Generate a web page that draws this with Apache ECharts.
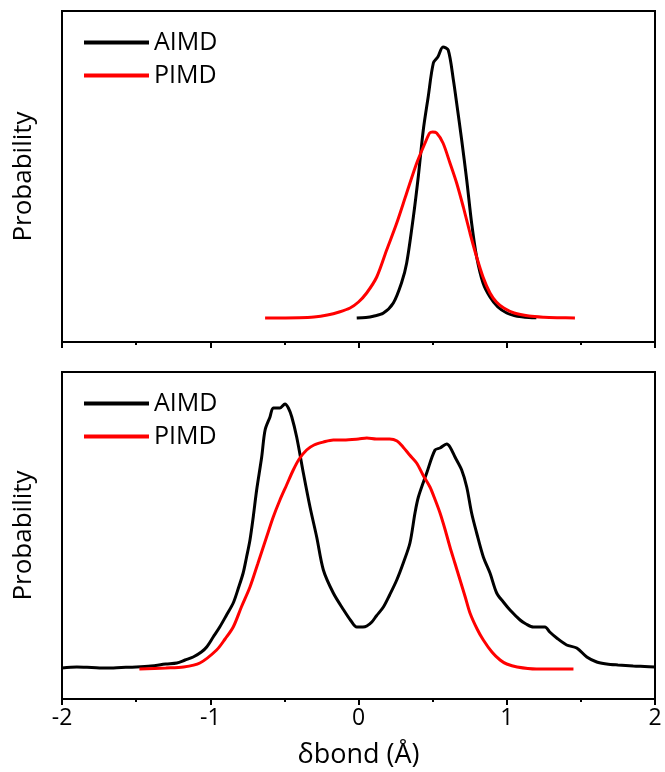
<!DOCTYPE html>
<html>
<head>
<meta charset="utf-8">
<script src="https://cdn.jsdelivr.net/npm/echarts@6/dist/echarts.min.js"></script>
<style>
  html, body { margin: 0; padding: 0; background: #fff; }
  #chart { width: 665px; height: 772px; }
</style>
</head>
<body>
<div id="chart"></div>
<script>
// Bond-length deviation distributions (δbond in Å, probability in arbitrary units)

// Upper panel
const topAimdX = [-0.012, 0.05, 0.1, 0.166, 0.235, 0.29, 0.325, 0.37, 0.403, 0.437, 0.47, 0.505, 0.535, 0.57, 0.605, 0.64, 0.662, 0.696, 0.73, 0.763, 0.797, 0.84, 0.887, 0.94, 1.0, 1.05, 1.1, 1.15, 1.2];
const topAimdY = [0, 0.6, 1.8, 4.7, 15, 35, 55, 101, 141, 188, 221, 255, 261, 271, 268, 238, 215, 178, 138, 95, 61, 35, 21, 11, 5, 2.5, 1.2, 0.5, 0.2];

const topPimdX = [-0.63, -0.4, -0.3, -0.21, -0.13, -0.057, 0.0, 0.055, 0.123, 0.19, 0.258, 0.325, 0.393, 0.449, 0.48, 0.5, 0.527, 0.57, 0.617, 0.662, 0.707, 0.752, 0.797, 0.84, 0.887, 0.93, 0.98, 1.05, 1.15, 1.25, 1.35, 1.46];
const topPimdY = [0, 0.3, 1, 3, 6, 10, 16, 25, 41, 68, 95, 125, 155, 175, 185, 186, 185, 175, 155, 135, 111, 85, 61, 41, 25, 16, 10, 5, 2, 0.8, 0.3, 0];

// Lower panel
const botAimdX = [-2.0, -1.9, -1.8, -1.7, -1.6, -1.5, -1.4, -1.3, -1.225, -1.17, -1.115, -1.06, -1.024, -0.98, -0.936, -0.89, -0.845, -0.81, -0.778, -0.755, -0.732, -0.71, -0.687, -0.653, -0.63, -0.597, -0.575, -0.53, -0.496, -0.473, -0.45, -0.417, -0.372, -0.327, -0.282, -0.237, -0.17, -0.1, -0.05, -0.012, 0.03, 0.056, 0.09, 0.12, 0.168, 0.21, 0.258, 0.302, 0.347, 0.381, 0.404, 0.46, 0.516, 0.55, 0.595, 0.617, 0.651, 0.696, 0.73, 0.763, 0.797, 0.842, 0.887, 0.932, 0.977, 1.022, 1.09, 1.13, 1.18, 1.22, 1.258, 1.29, 1.337, 1.404, 1.472, 1.54, 1.607, 1.674, 1.75, 1.853, 1.93, 2.0];
const botAimdY = [1, 2, 1.5, 1, 1.5, 2, 3, 5, 6, 9, 12, 17, 22, 32, 42, 54, 66, 81, 96, 112, 129, 152, 179, 212, 239, 252, 261, 261, 265, 261, 252, 232, 196, 162, 132, 99, 76, 59, 48, 42, 42, 43, 47, 53, 62, 74, 89, 106, 126, 156, 172, 196, 219, 221, 225, 222, 212, 199, 182, 156, 136, 112, 96, 76, 67, 59, 49, 45, 42, 42, 42, 37, 31, 24, 21, 12, 7, 5, 4, 3, 2.5, 2];

const botPimdX = [-1.478, -1.3, -1.18, -1.07, -0.957, -0.9, -0.845, -0.79, -0.732, -0.68, -0.62, -0.575, -0.53, -0.485, -0.44, -0.4, -0.35, -0.3, -0.236, -0.17, -0.1, 0.0, 0.056, 0.12, 0.21, 0.26, 0.3, 0.345, 0.392, 0.435, 0.482, 0.515, 0.55, 0.585, 0.617, 0.65, 0.685, 0.72, 0.752, 0.8, 0.842, 0.9, 0.955, 1.0, 1.07, 1.2, 1.45];
const botPimdY = [0, 1, 2, 6, 19, 30, 42, 62, 82, 105, 132, 152, 169, 184, 199, 210, 219, 224, 227, 229, 229, 230, 231, 230, 230, 228, 222, 214, 206, 194, 182, 170, 156, 139, 122, 106, 89, 72, 56, 40, 29, 17, 9, 5, 2, 0, 0];

const xTicks = [-2, -1, 0, 1, 2];
const seriesNames = ['AIMD', 'PIMD'];

const FONT = '"Open Sans", "Noto Sans", sans-serif';
const pair = (xs, ys) => xs.map((x, i) => [x, ys[i]]);

function xAxisFor(gridIndex, showLabels) {
  return {
    type: 'value', gridIndex, min: xTicks[0], max: xTicks[xTicks.length - 1], interval: 1,
    axisLine: { show: true, onZero: false, lineStyle: { color: '#000', width: 2 } },
    axisTick: { show: true, inside: false, length: 6, lineStyle: { color: '#000', width: 2 } },
    minorTick: { show: true, splitNumber: 2, length: 3, lineStyle: { color: '#000', width: 2 } },
    splitLine: { show: false },
    axisLabel: { show: showLabels, color: '#000', fontSize: 23, fontFamily: FONT, margin: 8,
      formatter: v => String(v) },
    name: showLabels ? 'δbond (Å)' : '', nameLocation: 'middle', nameGap: 43,
    nameTextStyle: { color: '#000', fontSize: 27, fontFamily: FONT }
  };
}

function yAxisFor(gridIndex, min, max) {
  return {
    type: 'value', gridIndex, min, max,
    axisLine: { show: true, onZero: false, lineStyle: { color: '#000', width: 2 } },
    axisTick: { show: false }, axisLabel: { show: false }, splitLine: { show: false },
    name: 'Probability', nameLocation: 'middle', nameGap: 25,
    nameTextStyle: { color: '#000', fontSize: 26, fontFamily: FONT }
  };
}

function lineSeries(name, color, xi, data) {
  return {
    name, type: 'line', xAxisIndex: xi, yAxisIndex: xi, data,
    showSymbol: false, symbol: 'none', smooth: 0.3, animation: false,
    lineStyle: { color, width: 3 }, itemStyle: { color }
  };
}

function legendAt(top) {
  return {
    orient: 'vertical', left: 79, top, itemWidth: 65, itemHeight: 4, itemGap: 8,
    icon: 'rect', data: seriesNames, selectedMode: false,
    textStyle: { color: '#000', fontSize: 25, fontFamily: FONT, padding: [0, 0, 0, 0] }
  };
}

const chart = echarts.init(document.getElementById('chart'), null, { renderer: 'canvas' });
chart.setOption({
  backgroundColor: '#fff',
  animation: false,
  grid: [
    { left: 62, right: 10, top: 11, height: 331, show: true, borderColor: '#000', borderWidth: 2, backgroundColor: 'transparent' },
    { left: 62, right: 10, top: 372, height: 327, show: true, borderColor: '#000', borderWidth: 2, backgroundColor: 'transparent' }
  ],
  legend: [legendAt(25), legendAt(386)],
  xAxis: [xAxisFor(0, false), xAxisFor(1, true)],
  yAxis: [yAxisFor(0, -24, 307), yAxisFor(1, -30, 297)],
  series: [
    lineSeries('AIMD', '#000000', 0, pair(topAimdX, topAimdY)),
    lineSeries('PIMD', '#ff0000', 0, pair(topPimdX, topPimdY)),
    lineSeries('AIMD', '#000000', 1, pair(botAimdX, botAimdY)),
    lineSeries('PIMD', '#ff0000', 1, pair(botPimdX, botPimdY))
  ]
});
</script>
</body>
</html>
